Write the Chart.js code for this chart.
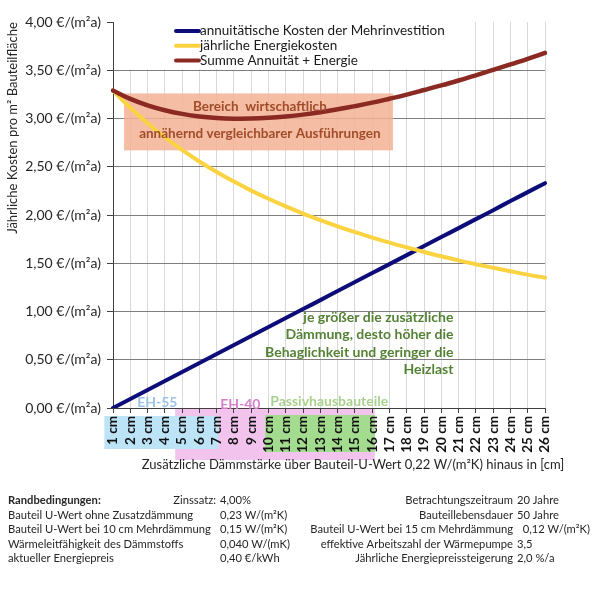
<!DOCTYPE html>
<html>
<head>
<meta charset="utf-8">
<script src="https://cdn.jsdelivr.net/npm/chart.js@4/dist/chart.umd.min.js"></script>
<style>
  html, body { margin: 0; padding: 0; background: #fff; }
  canvas { display: block; }
</style>
</head>
<body>
<canvas id="costChart" width="615" height="600"></canvas>
<script>
// x categories: additional insulation thickness
const categories = ['1 cm', '2 cm', '3 cm', '4 cm', '5 cm', '6 cm', '7 cm', '8 cm', '9 cm', '10 cm',
  '11 cm', '12 cm', '13 cm', '14 cm', '15 cm', '16 cm', '17 cm', '18 cm', '19 cm', '20 cm',
  '21 cm', '22 cm', '23 cm', '24 cm', '25 cm', '26 cm'];

// values, €/(m²a)
const annuityCosts = [0.000, 0.093, 0.186, 0.280, 0.373, 0.466, 0.559, 0.652, 0.746, 0.839, 0.932,
  1.025, 1.118, 1.212, 1.305, 1.398, 1.491, 1.584, 1.678, 1.771, 1.864, 1.957, 2.050, 2.144, 2.237, 2.330];
const energyCosts = [3.290, 3.111, 2.951, 2.806, 2.675, 2.555, 2.446, 2.346, 2.253, 2.168, 2.089,
  2.015, 1.947, 1.883, 1.823, 1.766, 1.714, 1.664, 1.617, 1.572, 1.530, 1.490, 1.453, 1.417, 1.382, 1.350];
const totalCosts = [3.290, 3.204, 3.137, 3.086, 3.048, 3.021, 3.005, 2.998, 2.999, 3.007, 3.021,
  3.040, 3.065, 3.095, 3.128, 3.164, 3.205, 3.248, 3.295, 3.343, 3.394, 3.447, 3.503, 3.561, 3.619, 3.680];

const seriesNames = ['annuitätische Kosten der Mehrinvestition', 'jährliche Energiekosten', 'Summe Annuität + Energie'];
const seriesColors = ['#0d0d7a', '#fbd341', '#8b2a22'];

const yTickValues = [0, 0.5, 1, 1.5, 2, 2.5, 3, 3.5, 4];

const conditionsLeft = [
  ['Randbedingungen:', 'Zinssatz:', '4,00%'],
  ['Bauteil U-Wert ohne Zusatzdämmung', '', '0,23 W/(m²K)'],
  ['Bauteil U-Wert bei 10 cm Mehrdämmung', '', '0,15 W/(m²K)'],
  ['Wärmeleitfähigkeit des Dämmstoffs', '', '0,040 W/(mK)'],
  ['aktueller Energiepreis', '', '0,40 €/kWh']
];
const conditionsRight = [
  ['Betrachtungszeitraum', '20 Jahre'],
  ['Bauteillebensdauer', '50 Jahre'],
  ['Bauteil U-Wert bei 15 cm Mehrdämmung', '  0,12 W/(m²K)'],
  ['effektive Arbeitszahl der Wärmepumpe', '3,5'],
  ['Jährliche Energiepreissteigerung', '2,0 %/a']
];

const FONT = 'Lato, "Open Sans", sans-serif';

const decorations = {
  id: 'decorations',
  beforeDraw(chart) {
    const { ctx, scales: { x }, chartArea: a } = chart;
    const px = i => x.getPixelForValue(i);
    ctx.save();
    // zones behind the x tick labels
    ctx.fillStyle = '#f2c3ec';
    ctx.fillRect(px(3.6), a.bottom, px(15.15) - px(3.6), 52);
    ctx.fillStyle = '#bde3f6';
    ctx.fillRect(px(-0.5), a.bottom + 8, px(6.1) - px(-0.5), 33);
    ctx.fillStyle = '#a3dc8e';
    ctx.fillRect(px(8.8), a.bottom + 7, px(15.15) - px(8.8), 37);
    ctx.restore();
  },
  beforeDatasetsDraw(chart) {
    const { ctx, scales: { x, y }, chartArea: a } = chart;
    const px = i => x.getPixelForValue(i);
    const py = v => y.getPixelForValue(v);
    ctx.save();
    // legend background
    ctx.fillStyle = '#fff';
    ctx.fillRect(a.left + 1, a.top - 2, px(20.7) - a.left, py(3.5) - a.top + 1);
    // economic range box
    ctx.fillStyle = 'rgba(243, 178, 148, 0.85)';
    ctx.fillRect(px(0.64), py(3.26), px(16.2) - px(0.64), py(2.67) - py(3.26));
    ctx.restore();
  },
  afterDatasetsDraw(chart) {
    const { ctx, scales: { x, y }, chartArea: a } = chart;
    const px = i => x.getPixelForValue(i);
    const py = v => y.getPixelForValue(v);
    ctx.save();
    ctx.textBaseline = 'middle';

    // box text
    ctx.fillStyle = '#a14c2a';
    ctx.font = 'bold 13.5px ' + FONT;
    ctx.textAlign = 'center';
    ctx.fillText('Bereich  wirtschaftlich', px(8.5), py(3.12));
    ctx.fillText('annähernd vergleichbarer Ausführungen', px(8.5), py(2.84));

    // green note
    ctx.fillStyle = '#548235';
    ctx.font = 'bold 14px ' + FONT;
    ctx.textAlign = 'right';
    const note = ['je größer die zusätzliche', 'Dämmung, desto höher die', 'Behaglichkeit und geringer die', 'Heizlast'];
    note.forEach((t, k) => ctx.fillText(t, px(19.7), 317 + k * 17.5));

    // zone labels
    ctx.font = 'bold 14px ' + FONT;
    ctx.textAlign = 'left';
    ctx.fillStyle = '#9dc3e6';
    ctx.fillText('EH-55', px(1.4), a.bottom - 6);
    ctx.fillStyle = '#d67fca';
    ctx.fillText('EH-40', px(6.2), a.bottom - 4);
    ctx.fillStyle = '#a9d18e';
    ctx.fillText('Passivhausbauteile', px(9.1), a.bottom - 7);

    // legend
    ctx.font = '13.5px ' + FONT;
    ctx.fillStyle = '#1a1a1a';
    chart.data.datasets.forEach((ds, k) => {
      const ly = 31 + k * 14.7;
      ctx.strokeStyle = ds.borderColor;
      ctx.lineWidth = 4;
      ctx.lineCap = 'round';
      ctx.beginPath();
      ctx.moveTo(176, ly);
      ctx.lineTo(199, ly);
      ctx.stroke();
      ctx.fillText(ds.label, 200, ly);
    });

    ctx.restore();
  },
  afterDraw(chart) {
    const { ctx } = chart;
    ctx.save();
    ctx.fillStyle = '#262626';
    ctx.textBaseline = 'middle';

    // y title
    ctx.font = '13px ' + FONT;
    ctx.save();
    ctx.translate(13, 128);
    ctx.rotate(-Math.PI / 2);
    ctx.textAlign = 'center';
    ctx.fillText('Jährliche Kosten pro m² Bauteilfläche', 0, 0);
    ctx.restore();

    // x title
    ctx.textAlign = 'center';
    ctx.font = '13px ' + FONT;
    ctx.fillText('Zusätzliche Dämmstärke über Bauteil-U-Wert 0,22 W/(m²K) hinaus in [cm]', 353, 465);

    // boundary conditions
    const rows = [500, 515, 529.5, 544, 558.5];
    const size = '11.2px ';
    conditionsLeft.forEach((r, k) => {
      ctx.font = (k === 0 ? 'bold ' : '') + size + FONT;
      ctx.textAlign = 'left';
      ctx.fillText(r[0], 8, rows[k]);
      ctx.font = size + FONT;
      ctx.textAlign = 'right';
      ctx.fillText(r[1], 216, rows[k]);
      ctx.textAlign = 'left';
      ctx.fillText(r[2], 220, rows[k]);
    });
    conditionsRight.forEach((r, k) => {
      ctx.textAlign = 'right';
      ctx.fillText(r[0], 513, rows[k]);
      ctx.textAlign = 'left';
      ctx.fillText(r[1], 517, rows[k]);
    });
    ctx.restore();
  }
};

new Chart(document.getElementById('costChart'), {
  type: 'line',
  data: {
    labels: categories,
    datasets: [
      { label: seriesNames[0], data: annuityCosts, borderColor: seriesColors[0], borderWidth: 4, order: 2 },
      { label: seriesNames[1], data: energyCosts, borderColor: seriesColors[1], borderWidth: 4, order: 1 },
      { label: seriesNames[2], data: totalCosts, borderColor: seriesColors[2], borderWidth: 4.5, order: 0 }
    ]
  },
  options: {
    responsive: false,
    animation: false,
    devicePixelRatio: 1,
    layout: { padding: { left: 0, right: 70, top: 22, bottom: 0 } },
    elements: {
      point: { radius: 0 },
      line: { tension: 0.4, fill: false, borderCapStyle: 'round' }
    },
    plugins: {
      legend: { display: false },
      tooltip: { enabled: false }
    },
    scales: {
      x: {
        offset: false,
        afterFit: s => { s.height = 192; },
        grid: { color: '#d9d9d9', tickColor: '#404040', tickLength: 5, drawOnChartArea: true },
        border: { color: '#404040', width: 1 },
        ticks: {
          autoSkip: false, minRotation: 90, maxRotation: 90, padding: 3,
          color: '#111', font: { family: FONT, size: 13.5, weight: 'bold' }
        }
      },
      y: {
        min: 0, max: 4,
        afterFit: s => { s.width = 113; },
        afterBuildTicks: s => { s.ticks = yTickValues.map(v => ({ value: v })); },
        grid: {
          color: c => (c.tick && c.tick.value === 4 ? 'rgba(0,0,0,0)' : '#7f7f7f'),
          tickColor: '#404040', tickLength: 6
        },
        border: { color: '#404040', width: 1 },
        ticks: {
          padding: 6, color: '#262626', font: { family: FONT, size: 14 },
          callback: v => v.toFixed(2).replace('.', ',') + ' €/(m²a)'
        }
      }
    }
  },
  plugins: [decorations]
});
</script>
</body>
</html>
